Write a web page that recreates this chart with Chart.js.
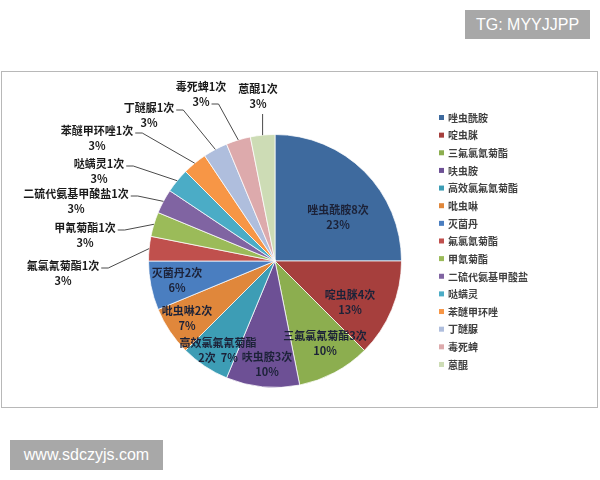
<!DOCTYPE html>
<html lang="zh-CN">
<head>
<meta charset="utf-8">
<title>农药检出次数</title>
<script src="https://cdn.jsdelivr.net/npm/chart.js@4/dist/chart.umd.min.js"></script>
<style>
    html, body { margin: 0; padding: 0; background: #fff; }
    #wrap { position: relative; width: 600px; height: 480px; overflow: hidden; }
    #frame { position: absolute; left: 1px; top: 71px; width: 597px; height: 337px; border: 1px solid #b8b8b8; box-sizing: border-box; }
    #chart { position: absolute; left: 0; top: 0; }
    .tag { position: absolute; background: #a8a8a8; color: #fff; font-family: "Liberation Sans", Arial, sans-serif; font-size: 16px; text-align: center; }
</style>
</head>
<body>
<div id="wrap">
    <div id="frame"></div>
    <canvas id="chart" width="600" height="480"></canvas>
    <div class="tag" style="left:465px; top:10px; width:125px; height:29px; line-height:29px;">TG: MYYJJPP</div>
    <div class="tag" style="left:10px; top:440px; width:153px; height:30px; line-height:30px;">www.sdczyjs.com</div>
</div>
<script>
// 数据
const names = ['唑虫酰胺', '啶虫脒', '三氟氯氰菊酯', '呋虫胺', '高效氯氟氰菊酯', '吡虫啉', '灭菌丹',
    '氟氯氰菊酯', '甲氰菊酯', '二硫代氨基甲酸盐', '哒螨灵', '苯醚甲环唑', '丁醚脲', '毒死蜱', '蒽醌'];
const counts = [8, 4, 3, 3, 2, 2, 2, 1, 1, 1, 1, 1, 1, 1, 1];
const pctLabels = ['23%', '13%', '10%', '10%', '7%', '7%', '6%', '3%', '3%', '3%', '3%', '3%', '3%', '3%', '3%'];

// 样式
const colors = ['#3e6a9e', '#a63f3d', '#8cae4f', '#6d5095', '#3d9db5', '#e0873b', '#4a7ec0',
    '#c0504d', '#9bbb59', '#8064a2', '#4bacc6', '#f79646', '#afbedd', '#ddaaac', '#cddcb5'];
const labelFont = 'bold 11px "Noto Sans CJK SC", sans-serif';
const legendFont = 'bold 10px "Noto Sans CJK SC", sans-serif';

// 标签位置（相对饼图圆心，第一行中心）
const labelOffsets = [[63, -51], [75, 34], [50, 75], [-8, 96], [-57, 82], [-88, 50], [-98, 12],
    [-212, 5], [-190, -33], [-199, -67], [-176, -97], [-178, -130], [-126, -153], [-74, -174], [-17, -172]];
const leaderMode = [null, null, null, null, null, null, null,
    'line1', 'line1', 'line1', 'line1', 'line1', 'line1', 'line2', 'below'];

function labelLines(i) {
    if (i === 4) return [names[i], counts[i] + '次  ' + pctLabels[i]];
    return [names[i] + counts[i] + '次', pctLabels[i]];
}

const labelPlugin = {
    id: 'sliceLabels',
    afterDatasetsDraw(chart) {
        const ctx = chart.ctx;
        const arcs = chart.getDatasetMeta(0).data;
        ctx.save();
        ctx.font = labelFont;
        ctx.textAlign = 'center';
        ctx.textBaseline = 'middle';
        arcs.forEach((arc, i) => {
            const cx = arc.x, cy = arc.y;
            const lx = cx + labelOffsets[i][0];
            const ly = cy + labelOffsets[i][1];
            const lines = labelLines(i);
            ctx.fillStyle = i < 7 ? '#1c2238' : '#1a1a1a';
            ctx.fillText(lines[0], lx, ly);
            ctx.fillText(lines[1], lx, ly + 15);

            const mode = leaderMode[i];
            if (!mode) return;
            const mid = (arc.startAngle + arc.endAngle) / 2;
            const ax = cx + Math.cos(mid) * arc.outerRadius;
            const ay = cy + Math.sin(mid) * arc.outerRadius;
            ctx.strokeStyle = '#4a4a4a';
            ctx.lineWidth = 1;
            ctx.beginPath();
            if (mode === 'below') {
                ctx.moveTo(ax, ly + 25);
                ctx.lineTo(ax, ay);
            } else {
                const row = mode === 'line1' ? 0 : 1;
                const w = ctx.measureText(lines[row]).width;
                const sx = lx + w / 2 + 2;
                const sy = ly + row * 15 + 2;
                ctx.moveTo(sx, sy);
                ctx.lineTo(sx + 7, sy);
                ctx.lineTo(ax, ay);
            }
            ctx.stroke();
        });
        ctx.restore();
    }
};

const legendPlugin = {
    id: 'sideLegend',
    afterDraw(chart) {
        const ctx = chart.ctx;
        ctx.save();
        ctx.font = legendFont;
        ctx.textAlign = 'left';
        ctx.textBaseline = 'middle';
        names.forEach((n, i) => {
            const y = 118 + i * 17.64;
            ctx.fillStyle = colors[i];
            ctx.fillRect(439, y - 3, 5, 5);
            ctx.fillStyle = '#404040';
            ctx.fillText(n, 448, y);
        });
        ctx.restore();
    }
};

new Chart(document.getElementById('chart'), {
    type: 'pie',
    data: {
        labels: names,
        datasets: [{
            data: counts,
            backgroundColor: colors,
            borderColor: 'rgba(255,255,255,0.75)',
            borderWidth: 1
        }]
    },
    options: {
        responsive: false,
        animation: false,
        layout: { padding: { left: 148, right: 198, top: 134, bottom: 92 } },
        plugins: { legend: { display: false }, tooltip: { enabled: false } }
    },
    plugins: [labelPlugin, legendPlugin]
});
</script>
</body>
</html>
